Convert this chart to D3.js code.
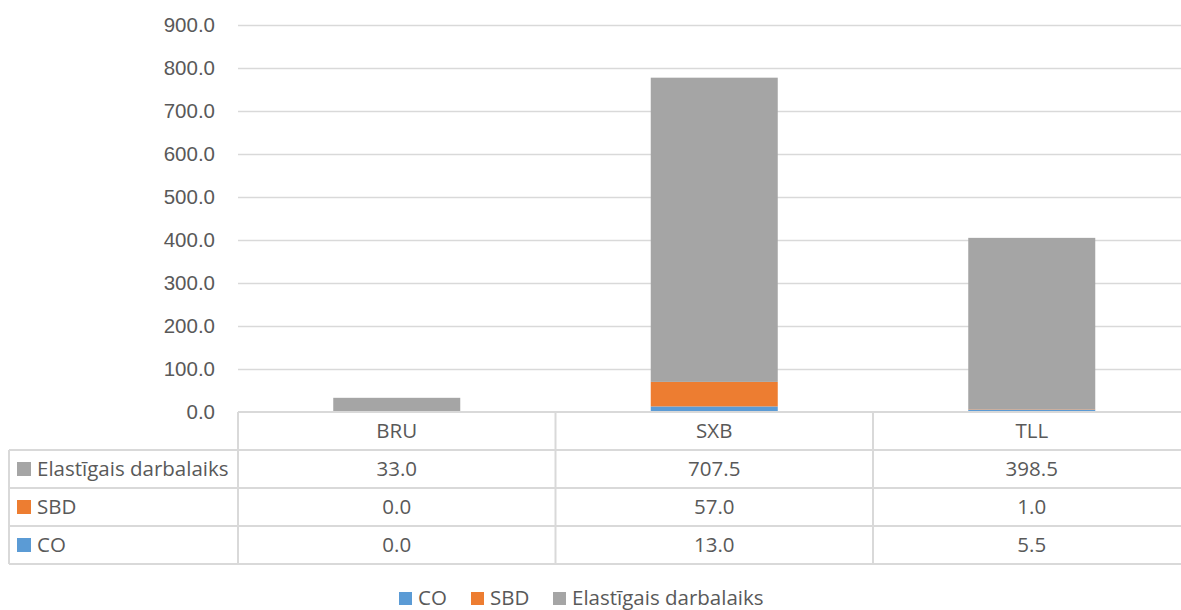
<!DOCTYPE html>
<html>
<head>
<meta charset="utf-8">
<style>
    body { margin: 0; background: #fff; }
    svg { font-family: "Open Sans", sans-serif; }
    .axis text, .tbl text, .legend text { fill: #595959; font-size: 20.5px; }
    .axis path { display: none; }
    .grid line { stroke: #d9d9d9; stroke-width: 1.5; }
    .grid path { display: none; }
    .tbl line { stroke: #d9d9d9; stroke-width: 2; }
</style>
<title>Chart</title>
</head>
<body>
<svg id="chart"></svg>
<script src="https://cdn.jsdelivr.net/npm/d3@7"></script>
<script>
// data
var categories = ['BRU', 'SXB', 'TLL'];
var seriesNames = ['CO', 'SBD', 'Elastīgais darbalaiks'];
var coValues = [0.0, 13.0, 5.5];
var sbdValues = [0.0, 57.0, 1.0];
var elasticValues = [33.0, 707.5, 398.5];
var yTicks = [0, 100, 200, 300, 400, 500, 600, 700, 800, 900];
var colors = ['#5b9bd5', '#ed7d31', '#a5a5a5'];

var rows = categories.map(function (c, i) {
    return { cat: c, 'CO': coValues[i], 'SBD': sbdValues[i], 'Elastīgais darbalaiks': elasticValues[i] };
});

var W = 1181, H = 610;
var margin = { left: 238, right: 1190.5, top: 25, bottom: 412 };

var svg = d3.select('#chart').attr('width', W).attr('height', H);

var x = d3.scaleBand()
    .domain(categories)
    .range([margin.left, margin.right])
    .paddingInner(0.6)
    .paddingOuter(0.3);

var xCol = d3.scaleBand()
    .domain(categories)
    .range([margin.left, margin.right]);

var y = d3.scaleLinear()
    .domain([0, 900])
    .range([margin.bottom, margin.top]);

var color = d3.scaleOrdinal().domain(seriesNames).range(colors);

// gridlines
svg.append('g')
    .attr('class', 'grid')
    .attr('transform', 'translate(' + margin.left + ',0)')
    .call(d3.axisRight(y).tickValues(yTicks.slice(1)).tickSize(margin.right - margin.left).tickFormat(''));

// y axis labels
svg.append('g')
    .attr('class', 'axis')
    .attr('transform', 'translate(' + margin.left + ',0)')
    .call(d3.axisLeft(y).tickValues(yTicks).tickSize(0).tickPadding(23).tickFormat(d3.format('.1f')));

// stacked bars
var stacked = d3.stack().keys(seriesNames)(rows);

svg.append('g').selectAll('g')
    .data(stacked)
    .enter().append('g')
    .attr('fill', function (d) { return color(d.key); })
    .selectAll('rect')
    .data(function (d) { return d; })
    .enter().append('rect')
    .attr('x', function (d) { return x(d.data.cat); })
    .attr('width', x.bandwidth())
    .attr('y', function (d) { return y(d[1]); })
    .attr('height', function (d) { return y(d[0]) - y(d[1]); });

// data table
var tbl = svg.append('g').attr('class', 'tbl');
var rowH = 38;
var headerTop = margin.bottom;
var tableLeft = 9;
var tableRows = seriesNames.slice().reverse();
var valuesBySeries = { 'CO': coValues, 'SBD': sbdValues, 'Elastīgais darbalaiks': elasticValues };

// horizontal lines
tbl.append('line')
    .attr('x1', margin.left).attr('x2', margin.right)
    .attr('y1', headerTop).attr('y2', headerTop);
d3.range(tableRows.length + 1).forEach(function (i) {
    var yy = headerTop + rowH * (i + 1);
    tbl.append('line')
        .attr('x1', tableLeft).attr('x2', margin.right)
        .attr('y1', yy).attr('y2', yy);
});
// vertical lines
tbl.append('line')
    .attr('x1', tableLeft).attr('x2', tableLeft)
    .attr('y1', headerTop + rowH).attr('y2', headerTop + rowH * 4);
categories.forEach(function (c) {
    tbl.append('line')
        .attr('x1', xCol(c)).attr('x2', xCol(c))
        .attr('y1', headerTop).attr('y2', headerTop + rowH * 4);
});
tbl.append('line')
    .attr('x1', margin.right).attr('x2', margin.right)
    .attr('y1', headerTop).attr('y2', headerTop + rowH * 4);

// header labels
tbl.selectAll('.hdr')
    .data(categories)
    .enter().append('text')
    .attr('x', function (d) { return xCol(d) + xCol.bandwidth() / 2; })
    .attr('y', headerTop + rowH / 2)
    .attr('dy', '0.35em')
    .attr('text-anchor', 'middle')
    .text(function (d) { return d; });

tableRows.forEach(function (s, i) {
    var cy = headerTop + rowH * (i + 1) + rowH / 2;
    tbl.append('rect')
        .attr('x', 17).attr('y', cy - 7)
        .attr('width', 14).attr('height', 14)
        .attr('fill', color(s));
    tbl.append('text')
        .attr('x', 37).attr('y', cy).attr('dy', '0.35em')
        .text(s);
    tbl.selectAll('.v' + i)
        .data(valuesBySeries[s])
        .enter().append('text')
        .attr('x', function (d, j) { return xCol(categories[j]) + xCol.bandwidth() / 2; })
        .attr('y', cy).attr('dy', '0.35em')
        .attr('text-anchor', 'middle')
        .text(function (d) { return d3.format('.1f')(d); });
});

// legend
var legendItems = [
    { name: 'CO', x: 399 },
    { name: 'SBD', x: 471 },
    { name: 'Elastīgais darbalaiks', x: 553 }
];
var legend = svg.append('g').attr('class', 'legend');
legend.selectAll('rect')
    .data(legendItems)
    .enter().append('rect')
    .attr('x', function (d) { return d.x; })
    .attr('y', 592)
    .attr('width', 13).attr('height', 13)
    .attr('fill', function (d) { return color(d.name); });
legend.selectAll('text')
    .data(legendItems)
    .enter().append('text')
    .attr('x', function (d) { return d.x + 19; })
    .attr('y', 605)
    .text(function (d) { return d.name; });
</script>
</body>
</html>
